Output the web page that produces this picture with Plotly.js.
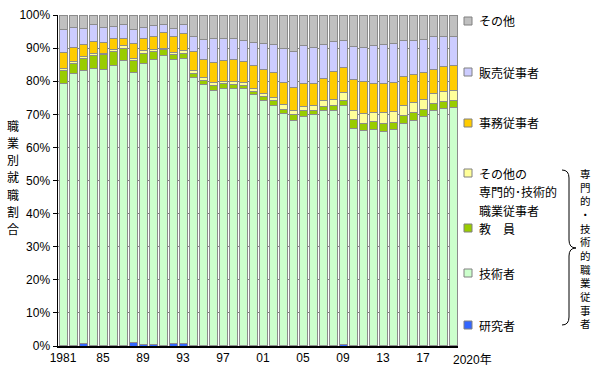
<!DOCTYPE html>
<html>
<head>
<meta charset="utf-8">
<script src="https://cdn.plot.ly/plotly-3.0.1.min.js"></script>
<style>
html,body{margin:0;padding:0;background:#fff;}
#chart{width:600px;height:372px;}
</style>
</head>
<body>
<div id="chart"></div>
<script>
const years = [1981,1982,1983,1984,1985,1986,1987,1988,1989,1990,
  1991,1992,1993,1994,1995,1996,1997,1998,1999,2000,
  2001,2002,2003,2004,2005,2006,2007,2008,2009,2010,
  2011,2012,2013,2014,2015,2016,2017,2018,2019,2020];

const researcher = [0.3,0.3,0.8,0.3,0.1,0.1,0.2,1.2,0.4,0.6,
  0.3,0.9,0.9,0.3,0.2,0.2,0.2,0.3,0.2,0.3,
  0.3,0.2,0.2,0.2,0.1,0.2,0.2,0.3,0.4,0.1,
  0.1,0.1,0.1,0.1,0.1,0.1,0.1,0.1,0.2,0.1];
const engineer = [79.0,81.9,82.5,83.4,83.4,84.6,86.1,81.5,85.1,85.9,
  87.4,85.8,86.1,80.7,78.8,77.1,77.7,77.4,77.5,75.7,
  74.0,72.5,69.9,68.0,69.3,69.6,70.8,70.9,72.2,65.6,
  65.0,65.4,64.7,65.3,67.0,68.0,69.1,71.2,71.6,72.0];
const teacher = [3.9,3.3,3.5,4.1,4.5,4.3,3.7,3.5,2.8,2.5,
  1.8,1.5,1.5,1.3,1.3,1.4,1.3,1.3,1.0,1.0,
  1.2,1.4,1.4,1.6,1.6,1.5,1.3,1.5,1.6,2.6,
  2.2,2.2,2.5,2.2,2.6,2.4,2.2,2.0,2.0,2.1];
const otherProf = [0.5,0.5,0.7,0.5,0.5,0.5,0.7,0.6,1.0,0.5,
  0.5,0.5,0.8,0.9,0.7,1.0,0.8,0.8,0.8,0.8,
  0.9,1.0,1.4,1.4,1.3,1.5,2.0,1.9,2.3,2.7,
  2.9,2.9,3.1,3.2,3.0,3.1,3.0,3.0,3.1,3.0];
const clerical = [5.0,4.2,3.5,3.7,3.3,3.3,2.3,4.5,3.5,4.0,
  4.7,4.8,5.2,5.8,5.5,6.1,6.2,6.7,6.5,6.8,
  7.1,7.4,6.6,6.9,7.1,6.4,6.6,8.4,7.6,9.6,
  9.8,8.6,8.9,8.7,8.6,8.4,8.1,7.3,7.5,7.5];
const sales = [7.0,6.1,5.0,5.2,4.5,3.7,4.2,4.4,3.5,3.2,
  2.3,2.3,2.5,4.5,6.2,7.2,6.8,6.3,6.3,7.1,
  7.9,8.7,10.5,10.8,11.4,10.9,10.2,8.9,8.3,9.9,
  10.3,11.5,11.8,11.9,10.9,10.2,10.1,9.8,9.2,8.9];
const others = [4.3,3.7,4.0,2.8,3.7,3.5,2.8,4.3,3.7,3.3,
  3.0,4.2,3.0,6.5,7.3,7.0,7.0,7.2,7.7,8.3,
  8.6,8.8,10.0,11.1,9.2,9.9,8.9,8.1,7.6,9.5,
  9.7,9.3,8.9,8.6,7.8,7.8,7.4,6.6,6.4,6.4];

const tickYears = [1981,1985,1989,1993,1997,2001,2005,2009,2013,2017];
const tickLabels = ['1981','85','89','93','97','01','05','09','13','17'];
const yTickVals = [0,10,20,30,40,50,60,70,80,90,100];
const yTickText = ['0%','10%','20%','30%','40%','50%','60%','70%','80%','90%','100%'];

const seriesNames = ['研究者','技術者','教　員','その他の専門的・技術的職業従事者','事務従事者','販売従事者','その他'];
const seriesColors = ['#3366FF','#CCFFCC','#99CC00','#FFFF99','#FFCC00','#CCCCFF','#C0C0C0'];
const seriesData = [researcher, engineer, teacher, otherProf, clerical, sales, others];

const traces = seriesData.map((vals, i) => ({
  type: 'bar', x: years, y: vals, name: seriesNames[i],
  width: 0.8,
  marker: {color: seriesColors[i], line: {color: '#8c8c8c', width: 1}},
  hoverinfo: 'skip'
}));

// pixel -> paper helpers (plot area: x 58..458, y 15..346)
const PX = x => (x - 58) / 400;
const PY = y => (346 - y) / 331;

const jp = '"Noto Sans CJK JP", sans-serif';
const annotations = [];
const shapes = [];

// legend entries (custom, irregular spacing)
const legendItems = [
  {c: '#C0C0C0', y: 21, lines: ['その他']},
  {c: '#CCCCFF', y: 72, lines: ['販売従事者']},
  {c: '#FFCC00', y: 123, lines: ['事務従事者']},
  {c: '#FFFF99', y: 173, lines: ['その他の', '専門的･技術的', '職業従事者']},
  {c: '#99CC00', y: 228, lines: ['教　員']},
  {c: '#CCFFCC', y: 273, lines: ['技術者']},
  {c: '#3366FF', y: 325, lines: ['研究者']}
];
legendItems.forEach(it => {
  shapes.push({type: 'rect', xref: 'paper', yref: 'paper',
    x0: PX(464), x1: PX(472), y0: PY(it.y + 4), y1: PY(it.y - 4),
    fillcolor: it.c, line: {color: '#808080', width: 1}});
  it.lines.forEach((t, k) => {
    annotations.push({xref: 'paper', yref: 'paper', x: PX(477), y: PY(it.y + k * 18.5),
      xanchor: 'left', yanchor: 'middle', showarrow: false, text: t,
      font: {family: jp, size: 12, color: '#000'}});
  });
});

// brace
const bp = [[562,170],[569,170],[569,178],[569,240],[569,248],[576,248],[569,248],[569,256],[569,317],[569,325],[562,325]]
  .map(p => [PX(p[0]).toFixed(4), PY(p[1]).toFixed(4)]);
const path = `M ${bp[0][0]},${bp[0][1]} Q ${bp[1][0]},${bp[1][1]} ${bp[2][0]},${bp[2][1]} L ${bp[3][0]},${bp[3][1]} Q ${bp[4][0]},${bp[4][1]} ${bp[5][0]},${bp[5][1]} Q ${bp[6][0]},${bp[6][1]} ${bp[7][0]},${bp[7][1]} L ${bp[8][0]},${bp[8][1]} Q ${bp[9][0]},${bp[9][1]} ${bp[10][0]},${bp[10][1]}`;
shapes.push({type: 'path', xref: 'paper', yref: 'paper', path: path, line: {color: '#000', width: 1}});

// vertical group label (one text, stacked characters)
annotations.push({xref: 'paper', yref: 'paper', x: PX(585), y: PY(248),
  xanchor: 'center', yanchor: 'middle', showarrow: false,
  text: '専門的・技術的職業従事者'.split('').join('<br>'),
  borderpad: 0, font: {family: jp, size: 10.5, color: '#000'}});

// y-axis title (stacked characters)
'職業別就職割合'.split('').forEach((ch, k) => {
  annotations.push({xref: 'paper', yref: 'paper', x: PX(13), y: PY(125 + k * 17.3),
    xanchor: 'center', yanchor: 'middle', showarrow: false, text: ch,
    borderpad: 0, font: {family: jp, size: 12, color: '#000'}});
});

// last x label
annotations.push({xref: 'x', yref: 'paper', x: 2019.75, y: PY(360),
  xanchor: 'left', yanchor: 'middle', showarrow: false, text: '2020年',
  font: {family: 'Arial, "Liberation Sans", "Noto Sans CJK JP", sans-serif', size: 12, color: '#000'}});

const layout = {
  width: 600, height: 372,
  margin: {l: 58, r: 142, t: 15, b: 26, pad: 0},
  paper_bgcolor: '#fff', plot_bgcolor: '#fff',
  barmode: 'stack', bargap: 0.2,
  showlegend: false,
  font: {family: 'Arial, "Liberation Sans", sans-serif', size: 12, color: '#000'},
  xaxis: {range: [1980.5, 2020.5], tickmode: 'array', tickvals: tickYears, ticktext: tickLabels,
    showgrid: false, zeroline: false, showline: true, linecolor: '#000', linewidth: 1.5,
    ticks: '', tickfont: {size: 12}, fixedrange: true},
  yaxis: {range: [0, 100], tickmode: 'array', tickvals: yTickVals, ticktext: yTickText,
    showgrid: true, gridcolor: '#808080', gridwidth: 1, zeroline: false,
    showline: true, linecolor: '#000', linewidth: 1.5, ticks: 'outside', ticklen: 4, tickcolor: '#000',
    tickfont: {size: 12}, fixedrange: true},
  annotations: annotations,
  shapes: shapes
};

Plotly.newPlot('chart', traces, layout, {staticPlot: true, displayModeBar: false});
</script>
</body>
</html>
